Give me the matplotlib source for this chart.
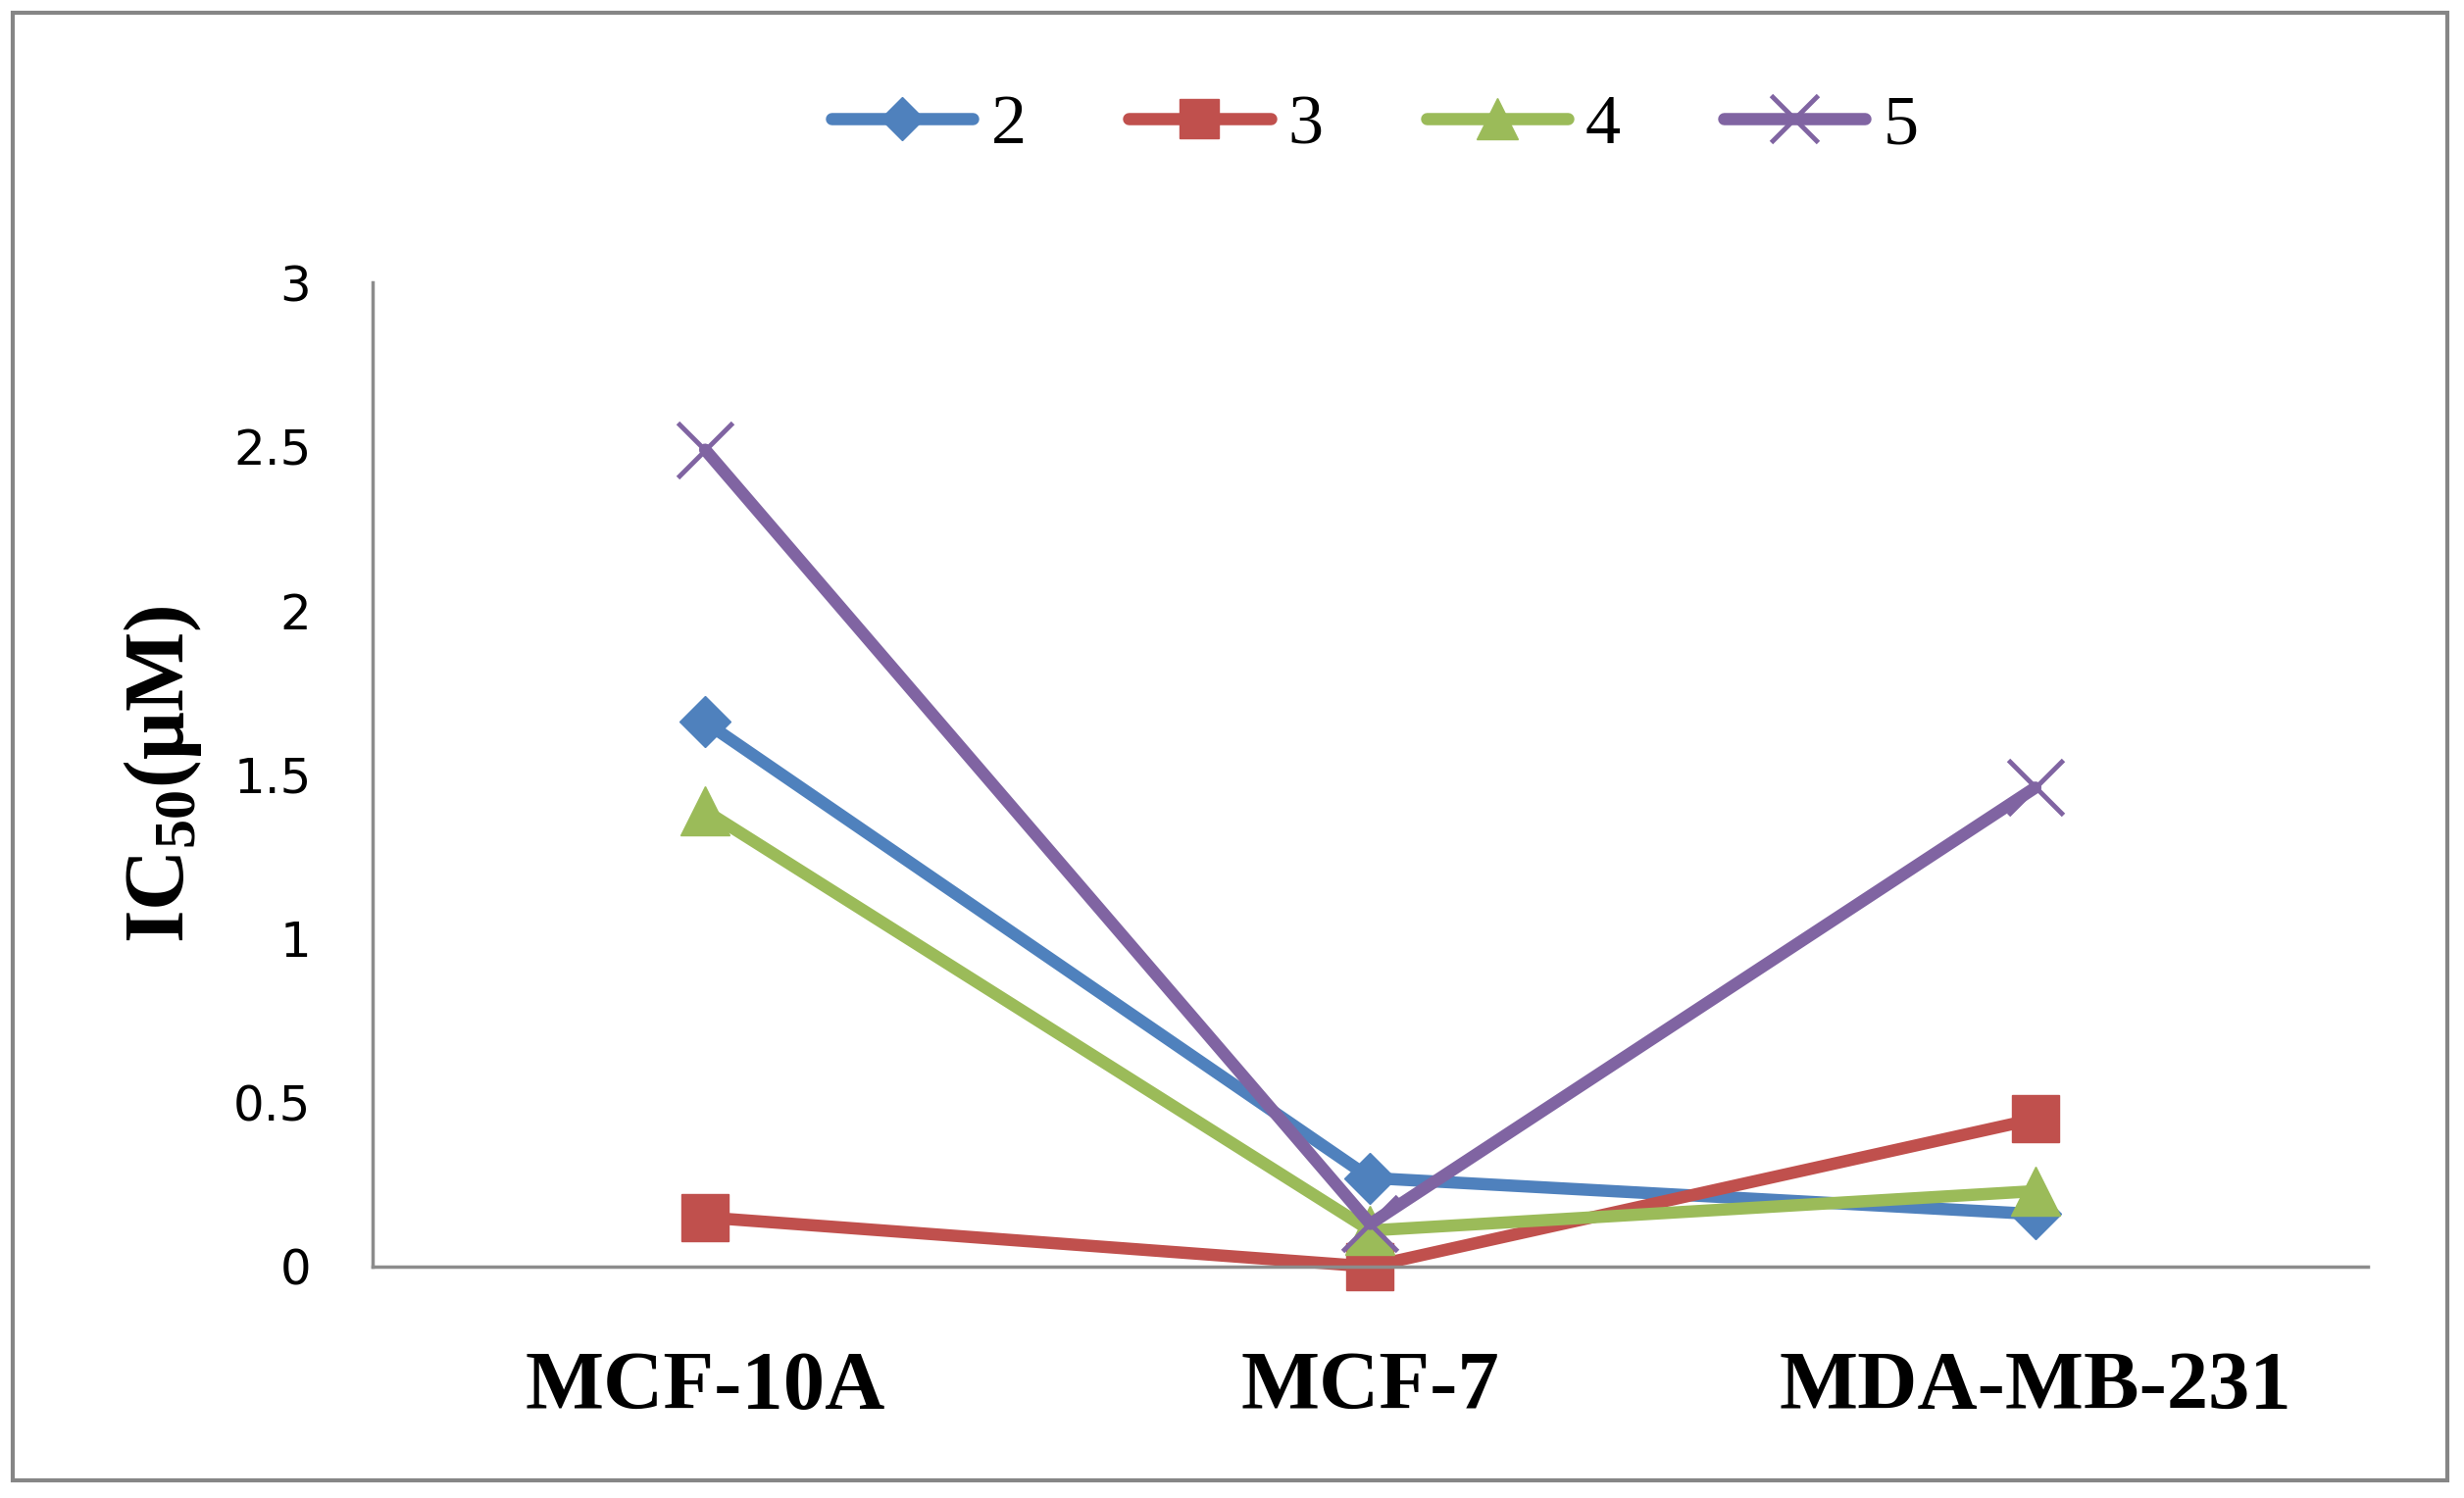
import matplotlib
matplotlib.use("Agg")
import matplotlib.pyplot as plt
from matplotlib.patches import Rectangle

categories = ["MCF-10A", "MCF-7", "MDA-MB-231"]
series_names = ["2", "3", "4", "5"]
s2 = [1.66, 0.27, 0.16]
s3 = [0.15, 0.00, 0.45]
s4 = [1.39, 0.11, 0.23]
s5 = [2.49, 0.13, 1.46]
yticks = [0, 0.5, 1, 1.5, 2, 2.5, 3]
ytick_labels = ["0", "0.5", "1", "1.5", "2", "2.5", "3"]

colors = ["#4F81BD", "#C0504D", "#9BBB59", "#8064A2"]
markers = ["D", "s", "^", "x"]
msizes = [26, 34, 36, 40]

plt.rcParams['mathtext.fontset'] = 'custom'
plt.rcParams['mathtext.rm'] = 'Liberation Serif:bold'
plt.rcParams['mathtext.bf'] = 'Liberation Serif:bold'

fig = plt.figure(figsize=(25.13, 15.28), dpi=100)
ax = fig.add_axes([0.1512, 0.1545, 0.961 - 0.1512, 0.8115 - 0.1545])

x = list(range(len(categories)))
for vals, name, c, m, ms in zip([s2, s3, s4, s5], series_names, colors, markers, msizes):
    kw = dict(color=c, linewidth=9, marker=m, markersize=ms, label=name,
              markerfacecolor=c, markeredgecolor=c, solid_capstyle='round')
    if m == "x":
        kw['markeredgewidth'] = 3.5
    ax.plot(x, vals, **kw, clip_on=False)

ax.set_xlim(-0.5, 2.5)
ax.set_ylim(0, 3)
ax.set_yticks(yticks)
ax.set_yticklabels(ytick_labels, fontsize=36, family='DejaVu Sans')
ax.set_xticks(x)
ax.set_xticklabels(categories, fontsize=61, fontweight='bold', family='Liberation Serif')
ax.tick_params(axis='y', length=0, pad=45)
ax.tick_params(axis='x', length=0, pad=62)
for s in ['top', 'right']:
    ax.spines[s].set_visible(False)
for s in ['left', 'bottom']:
    ax.spines[s].set_color('#8c8c8c')
    ax.spines[s].set_linewidth(2.5)

ax.set_ylabel(r'$\mathrm{IC_{50}(\mu M)}$', fontsize=62, labelpad=22)

leg = fig.legend(loc='center', bbox_to_anchor=(0.558, 0.916), ncol=4, frameon=False,
                 prop={'family': 'Liberation Serif', 'size': 52},
                 handlelength=2.0, handletextpad=0.25, columnspacing=1.45,
                 markerscale=0.85)

fig.patches.append(Rectangle((13 / 2513, 1 - 1510 / 1528), (2496 - 13) / 2513, (1510 - 13) / 1528,
                             transform=fig.transFigure, fill=False, edgecolor='#868686',
                             linewidth=3))

fig.savefig("out.png", dpi=100)
